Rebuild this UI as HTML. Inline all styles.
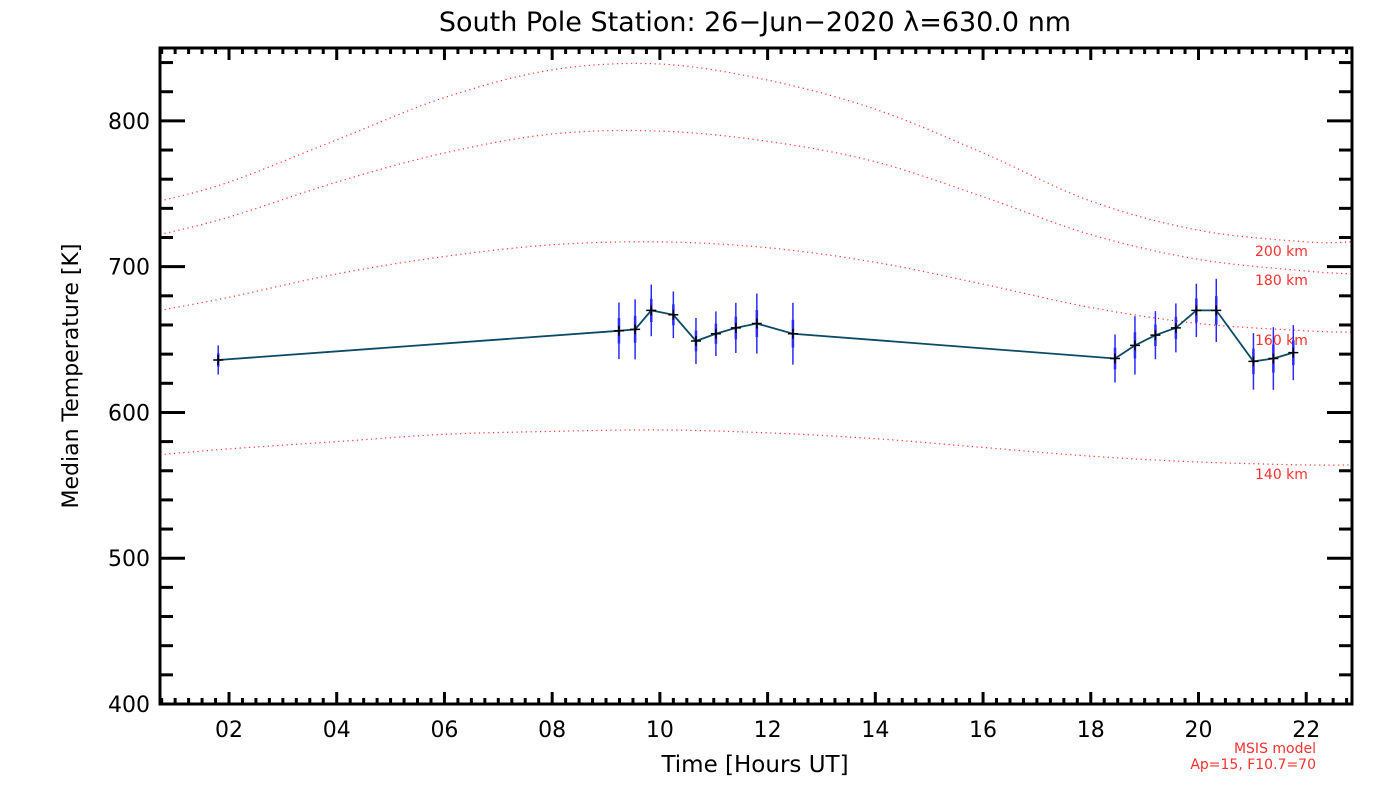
<!DOCTYPE html>
<html><head><meta charset="utf-8"><style>
html,body{margin:0;padding:0;background:#fff;}
svg{display:block;font-family:"DejaVu Sans","Liberation Sans",sans-serif;}
</style></head><body>
<svg id="chart" width="1400" height="800">
<text x="755" y="31" font-size="27" text-anchor="middle">South Pole Station: 26−Jun−2020 λ=630.0 nm</text>
<text x="755" y="772" font-size="23" text-anchor="middle">Time [Hours UT]</text>
<text transform="translate(78,376) rotate(-90)" font-size="22" text-anchor="middle">Median Temperature [K]</text>
<text x="1316" y="753" font-size="14" fill="#ff3030" text-anchor="end">MSIS model</text>
<text x="1316" y="769" font-size="14" fill="#ff3030" text-anchor="end">Ap=15, F10.7=70</text>
<g id="curves"></g><g id="series"></g><g id="axes"></g>
</svg>
<script>
const xTicks=["02","04","06","08","10","12","14","16","18","20","22"];
const yTicks=[400,500,600,700,800];
const hours=[1.80,9.24,9.54,9.84,10.25,10.67,11.04,11.41,11.80,12.47,18.45,18.82,19.20,19.58,19.96,20.33,21.02,21.39,21.76];
const temps=[636,656,657,670,667,649,654,658,661,654,637,646,653,658,670,670,635,637,641];
const errs=[10,19.4,20.6,17.7,16,15.8,15.3,17.2,20.6,21.2,16.5,20,16.5,16.8,18.3,21.7,19.4,21.5,18.9];
const msisHours=[0.72,2,4,6,8,10,12,14,16,18,20,22,22.85];
const msis200=[745,758,787,816,835,839,828,808,778,745,725,717,717];
const msis180=[722,734,758,778,791,793,786,772,748,722,705,697,695];
const msis160=[670,679,695,707,715,717,713,703,688,672,661,656,655];
const msis140=[571,575,580,585,587,588,586,582,576,570,566,564,564];
const msisLabels=["200 km","180 km","160 km","140 km"];

const L=160,R=1352,T=48,B=704,X0=0.719,X1=22.85,Y0=400,Y1=850;
const sx=h=>L+(h-X0)/(X1-X0)*(R-L);
const sy=v=>B-(v-Y0)/(Y1-Y0)*(B-T);
const NS="http://www.w3.org/2000/svg";
function mk(tag,attrs,parent){const e=document.createElementNS(NS,tag);for(const k in attrs)e.setAttribute(k,attrs[k]);parent.appendChild(e);return e;}
const axes=document.getElementById('axes'),curves=document.getElementById('curves'),series=document.getElementById('series');

[msis200,msis180,msis160,msis140].forEach((arr,ci)=>{
  const p=msisHours.map((h,i)=>[sx(h),sy(arr[i])]);
  let d="M"+p[0][0]+","+p[0][1];
  for(let i=0;i<p.length-1;i++){
    const p0=p[Math.max(0,i-1)],p1=p[i],p2=p[i+1],p3=p[Math.min(p.length-1,i+2)];
    d+=" C"+(p1[0]+(p2[0]-p0[0])/6)+","+(p1[1]+(p2[1]-p0[1])/6)+" "+(p2[0]-(p3[0]-p1[0])/6)+","+(p2[1]-(p3[1]-p1[1])/6)+" "+p2[0]+","+p2[1];
  }
  const c=mk('path',{d:d,fill:'none',stroke:'#ff3030','stroke-width':1.2,'stroke-dasharray':'1.2 3.5'},curves);
  
  
  const t=mk('text',{x:1255,y:sy(arr[arr.length-2])+14,'font-size':14,fill:'#ff3030'},curves);
  t.textContent=msisLabels[ci];
  
  
});

hours.forEach((h,i)=>{
  const x=sx(h);
  const e1=mk('line',{x1:x,x2:x,y1:sy(temps[i]+errs[i]),y2:sy(temps[i]-errs[i]),stroke:'#2a2aff','stroke-width':1.5},series);
  
  
  const e2=mk('line',{x1:x,x2:x,y1:sy(temps[i]+errs[i]*0.45),y2:sy(temps[i]-errs[i]*0.45),stroke:'#2a2aff','stroke-width':2.5},series);
  
  
});
const line=mk('polyline',{points:hours.map((h,i)=>sx(h)+","+sy(temps[i])).join(" "),fill:'none',stroke:'#0b4a66','stroke-width':1.8},series);


hours.forEach((h,i)=>{
  const x=sx(h),y=sy(temps[i]);
  const m=mk('path',{d:`M${x-5},${y}H${x+5}M${x},${y-5}V${y+5}`,stroke:'#000','stroke-width':1.5},series);
  
  
});

const fr=mk('rect',{x:L,y:T,width:R-L,height:B-T,fill:'none',stroke:'#000','stroke-width':3},axes);


for(let q=Math.ceil(X0*4);q<=X1*4;q++){
  const h=q/4,x=sx(h),major=(q%8===0);
  const len=major?12:6;
  mk('line',{x1:x,x2:x,y1:B,y2:B-len,stroke:'#000','stroke-width':3},axes);
  mk('line',{x1:x,x2:x,y1:T,y2:T+len,stroke:'#000','stroke-width':3},axes);
}
xTicks.forEach(s=>{
  const t=mk('text',{x:sx(+s),y:737,'font-size':22,'text-anchor':'middle'},axes);
  t.textContent=s;
  
  
});
for(let v=Y0;v<=Y1;v+=20){
  const y=sy(v),major=(v%100===0),len=major?25:13;
  mk('line',{x1:L,x2:L+len,y1:y,y2:y,stroke:'#000','stroke-width':3},axes);
  mk('line',{x1:R,x2:R-len,y1:y,y2:y,stroke:'#000','stroke-width':3},axes);
}
yTicks.forEach(v=>{
  const t=mk('text',{x:150,y:sy(v)+8,'font-size':22,'text-anchor':'end'},axes);
  t.textContent=v;
  
  
});
</script>
</body></html>
